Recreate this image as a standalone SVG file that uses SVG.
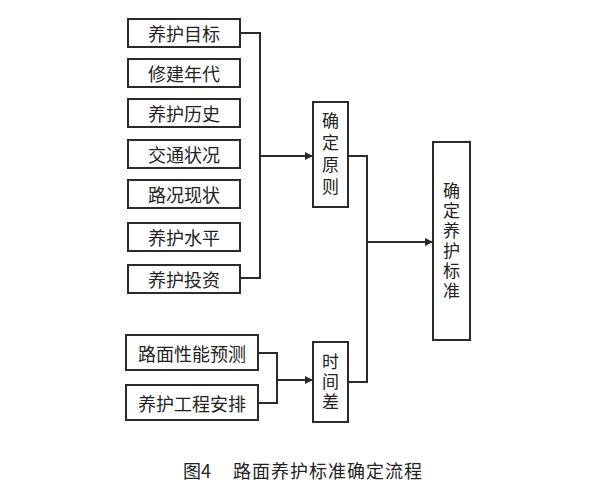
<svg xmlns="http://www.w3.org/2000/svg" width="600" height="490" viewBox="0 0 600 490">
<style>
.box{fill:#fff;stroke:#2a2a2a;stroke-width:2}
.t{font-family:"Noto Sans CJK SC","Noto Sans",sans-serif;font-size:18px;fill:#222;text-anchor:middle;dominant-baseline:central}
.v{font-family:"Noto Sans CJK SC","Noto Sans",sans-serif;font-size:17px;fill:#222;text-anchor:middle;writing-mode:vertical-rl;text-orientation:upright}
.ln{fill:none;stroke:#2a2a2a;stroke-width:2}
.cap{font-family:"Noto Sans CJK SC","Noto Sans",sans-serif;font-size:18px;fill:#222;dominant-baseline:central}
</style>
<defs>
<marker id="ah" viewBox="0 0 10 10" refX="10" refY="5" markerWidth="4" markerHeight="4" orient="auto" markerUnits="strokeWidth">
<path d="M0,0L10,5L0,10z" fill="#2a2a2a"/>
</marker>
</defs>
<rect width="600" height="490" fill="#fff"/>
<g id="n1"><rect class="box" x="128" y="19" width="112" height="28"/><text class="t" x="184" y="33">养护目标</text></g>
<g id="n2"><rect class="box" x="128" y="59" width="112" height="28"/><text class="t" x="184" y="73">修建年代</text></g>
<g id="n3"><rect class="box" x="128" y="99" width="112" height="28"/><text class="t" x="184" y="113">养护历史</text></g>
<g id="n4"><rect class="box" x="128" y="140" width="112" height="28"/><text class="t" x="184" y="154">交通状况</text></g>
<g id="n5"><rect class="box" x="128" y="180" width="112" height="28"/><text class="t" x="184" y="194">路况现状</text></g>
<g id="n6"><rect class="box" x="128" y="223" width="112" height="28"/><text class="t" x="184" y="237">养护水平</text></g>
<g id="n7"><rect class="box" x="128" y="265" width="112" height="28"/><text class="t" x="184" y="279">养护投资</text></g>
<g id="n8"><rect class="box" x="313" y="102" width="35" height="105"/>
<text class="v" x="330.5" y="156" letter-spacing="5">确定原则</text></g>
<g id="n9"><rect class="box" x="126" y="335" width="132" height="35"/><text class="t" x="192" y="353">路面性能预测</text></g>
<g id="n10"><rect class="box" x="126" y="385" width="132" height="35"/><text class="t" x="192" y="403">养护工程安排</text></g>
<g id="n11"><rect class="box" x="313" y="342" width="35" height="80"/>
<text class="v" x="330.5" y="383" letter-spacing="3">时间差</text></g>
<g id="n12"><rect class="box" x="433" y="142" width="37" height="198"/>
<text class="v" x="451.5" y="242" letter-spacing="3">确定养护标准</text></g>
<g id="connectors">
<path class="ln" d="M240,33H260V278H240"/>
<path class="ln" d="M260,156H313" marker-end="url(#ah)"/>
<path class="ln" d="M258,353H277V403H258"/>
<path class="ln" d="M277,380H313" marker-end="url(#ah)"/>
<path class="ln" d="M348,156H367V382H348"/>
<path class="ln" d="M367,242H433" marker-end="url(#ah)"/>
</g>
<text class="cap" x="183" y="470">图4</text>
<text class="cap" x="233" y="470" letter-spacing="1">路面养护标准确定流程</text>
</svg>
